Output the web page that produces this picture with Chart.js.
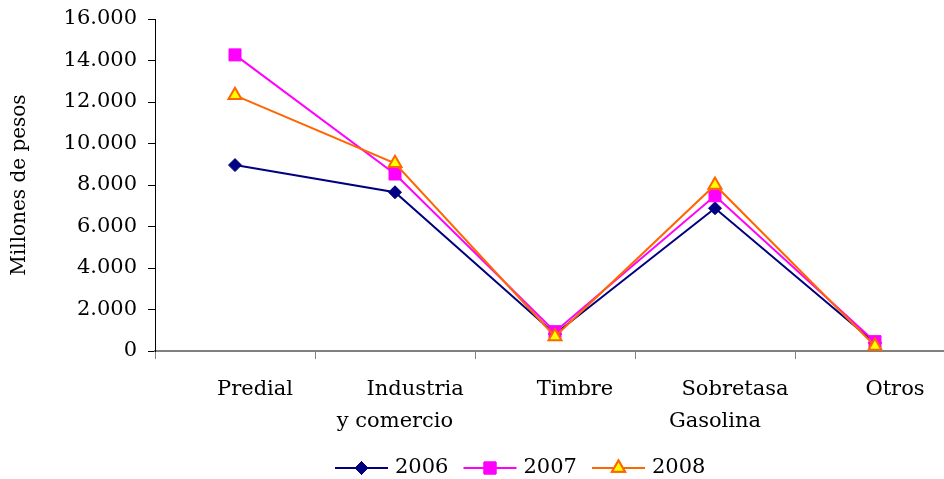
<!DOCTYPE html>
<html>
<head>
<meta charset="utf-8">
<script src="https://cdn.jsdelivr.net/npm/chart.js@4"></script>
<style>
  html, body { margin: 0; padding: 0; background: #fff; overflow: hidden; }
  #wrap { width: 960px; height: 479px; }
</style>
</head>
<body>
<div id="wrap"><canvas id="grafico"></canvas></div>
<script>
// categorias (la primera linea lleva espacios como en el original)
const categorias = [
  "      Predial",
  ["      Industria", "y comercio"],
  "      Timbre",
  ["      Sobretasa", "Gasolina"],
  "      Otros"
];
const anios = ["2006", "2007", "2008"];
const valores2006 = [8960, 7650, 820, 6880, 390];
const valores2007 = [14270, 8530, 930, 7480, 450];
const valores2008 = [12320, 9050, 700, 8000, 240];
const ticksY = [0, 2000, 4000, 6000, 8000, 10000, 12000, 14000, 16000];

const fuente = '"DejaVu Serif", serif';

function formatoMiles(v) {
  return String(v).replace(/\B(?=(\d{3})+(?!\d))/g, ".");
}

const estilos = [
  { color: "#000080", fondo: "#000080", punto: "rectRot", radio: 6.5, borde: 1 },
  { color: "#FF00FF", fondo: "#FF00FF", punto: "rect", radio: 8.5, borde: 1 },
  { color: "#FF6600", fondo: "#FFFF00", punto: "triangle", radio: 7.5, borde: 2 }
];

// leyenda dibujada a mano: linea con marcador y texto
const leyendaPlugin = {
  id: "leyenda",
  afterDraw(chart) {
    const ctx = chart.ctx;
    const y = 468;
    let x = 335;
    ctx.save();
    chart.data.datasets.forEach((ds, i) => {
      const e = estilos[i];
      ctx.strokeStyle = e.color;
      ctx.lineWidth = 2;
      ctx.beginPath();
      ctx.moveTo(x, y);
      ctx.lineTo(x + 53, y);
      ctx.stroke();
      ctx.fillStyle = e.fondo;
      ctx.lineWidth = e.borde;
      Chart.helpers.drawPoint(ctx, { pointStyle: e.punto, radius: e.radio, rotation: 0, borderWidth: e.borde }, x + 26.5, y);
      ctx.fill();
      if (e.borde) ctx.stroke();
      ctx.fillStyle = "#000";
      ctx.font = "21px " + fuente;
      ctx.textBaseline = "middle";
      ctx.textAlign = "left";
      ctx.fillText(ds.label, x + 60, y);
      x += 128.5;
    });
    ctx.restore();
  }
};

const series = [valores2006, valores2007, valores2008];

new Chart(document.getElementById("grafico"), {
  type: "line",
  data: {
    labels: categorias,
    datasets: series.map((vals, i) => ({
      label: anios[i],
      data: vals,
      borderColor: estilos[i].color,
      backgroundColor: estilos[i].fondo,
      pointBackgroundColor: estilos[i].fondo,
      pointBorderColor: estilos[i].color,
      pointBorderWidth: estilos[i].borde,
      pointStyle: estilos[i].punto,
      pointRadius: estilos[i].radio,
      pointHoverRadius: estilos[i].radio,
      borderWidth: 2,
      tension: 0,
      clip: false,
      order: 3 - i
    }))
  },
  options: {
    responsive: true,
    maintainAspectRatio: false,
    animation: false,
    layout: { autoPadding: false, padding: { top: 19, right: 5, left: 0, bottom: 0 } },
    plugins: {
      legend: { display: false },
      tooltip: { enabled: false }
    },
    scales: {
      x: {
        offset: true,
        grid: {
          offset: true,
          drawOnChartArea: false,
          drawTicks: true,
          tickLength: 8,
          color: "#808080",
          lineWidth: 1
        },
        border: { color: "#808080", width: 2 },
        ticks: {
          color: "#000",
          font: { family: fuente, size: 21, lineHeight: 1.52 },
          padding: 15,
          autoSkip: false,
          maxRotation: 0,
          minRotation: 0
        },
        afterFit(scale) {
          scale.height = 128;
          scale.paddingLeft = 0;
          scale.paddingRight = 0;
        }
      },
      y: {
        min: 0,
        max: 16000,
        afterBuildTicks(scale) { scale.ticks = ticksY.map(v => ({ value: v })); },
        grid: {
          drawOnChartArea: false,
          drawTicks: true,
          tickLength: 7,
          color: "#000",
          lineWidth: 1
        },
        border: { color: "#000", width: 1 },
        ticks: {
          color: "#000",
          font: { family: fuente, size: 21 },
          padding: 11,
          callback: v => formatoMiles(v)
        },
        title: {
          display: true,
          text: "Millones de pesos",
          color: "#000",
          font: { family: fuente, size: 20 },
          padding: { top: 8, bottom: 0 }
        },
        afterFit(scale) {
          scale.width = 155;
          scale.paddingTop = 0;
          scale.paddingBottom = 0;
        }
      }
    }
  },
  plugins: [leyendaPlugin]
});
</script>
</body>
</html>
